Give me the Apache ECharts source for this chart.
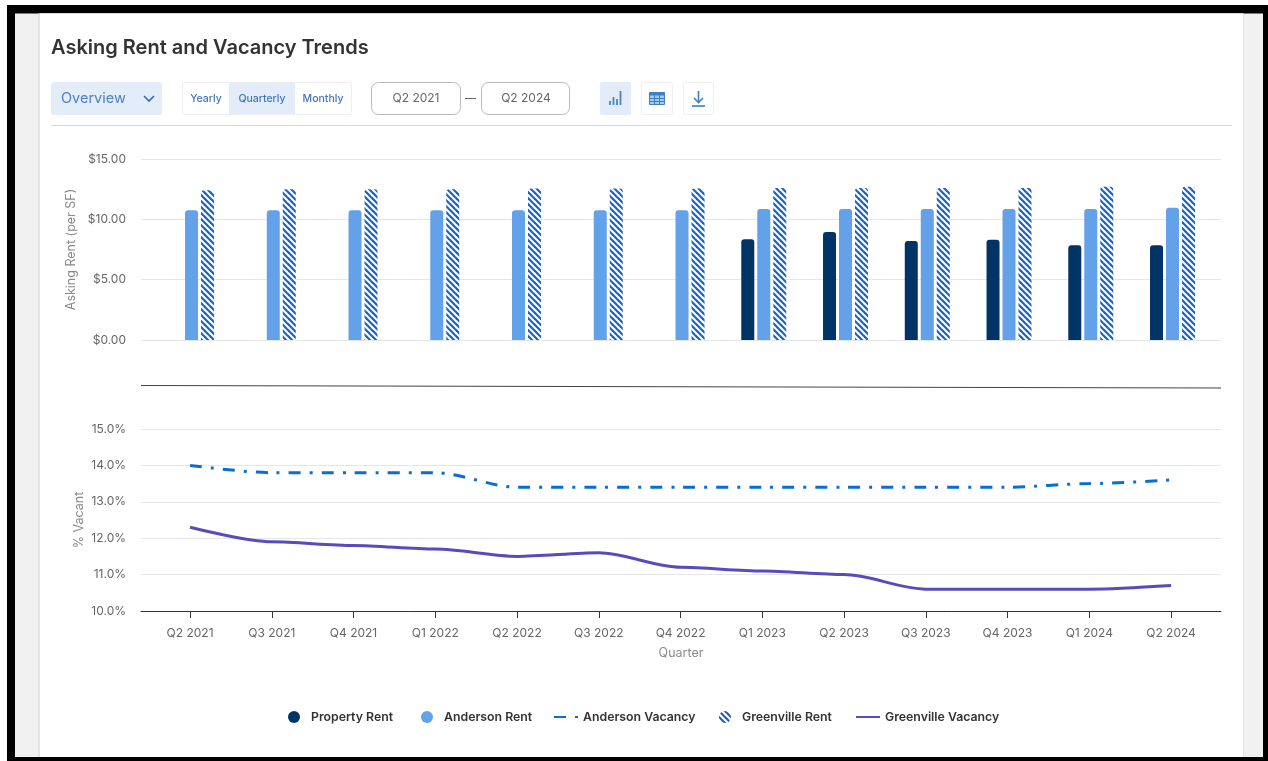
<!DOCTYPE html>
<html>
<head>
<meta charset="utf-8">
<style>html,body{margin:0;padding:0;background:#fff}#chart{width:1268px;height:761px}</style>
<script src="https://cdn.jsdelivr.net/npm/echarts@6/dist/echarts.min.js"></script>
</head>
<body>
<div id="chart"></div>
<script>
const quarters = ['Q2 2021','Q3 2021','Q4 2021','Q1 2022','Q2 2022','Q3 2022','Q4 2022','Q1 2023','Q2 2023','Q3 2023','Q4 2023','Q1 2024','Q2 2024'];
const propertyRent = [null,null,null,null,null,null,null,8.35,8.95,8.2,8.3,7.85,7.85];
const andersonRent = [10.75,10.75,10.75,10.75,10.75,10.75,10.75,10.85,10.85,10.85,10.85,10.85,10.95];
const greenvilleRent = [12.4,12.5,12.5,12.5,12.55,12.55,12.55,12.6,12.6,12.6,12.6,12.7,12.7];
const andersonVacancy = [14.0,13.8,13.8,13.8,13.4,13.4,13.4,13.4,13.4,13.4,13.4,13.5,13.6];
const greenvilleVacancy = [12.3,11.9,11.8,11.7,11.5,11.6,11.2,11.1,11.0,10.6,10.6,10.6,10.7];

const FONT = 'Inter, "Open Sans", sans-serif';
const BLUE_TEXT = '#3f76bd';

// Diagonal hatch tile used for the Greenville Rent bars and legend marker
function hatchTile(ink) {
  const size = 6;
  const c = document.createElement('canvas');
  c.width = c.height = size;
  const g = c.getContext('2d');
  g.fillStyle = '#ffffff';
  g.fillRect(0, 0, size, size);
  g.strokeStyle = ink;
  g.lineWidth = 2.2;
  [-size, 0, size].forEach(d => {
    g.beginPath();
    g.moveTo(d - 1, -1);
    g.lineTo(d + size + 1, size + 1);
    g.stroke();
  });
  return c;
}
const hatch = { image: hatchTile('#1c60c4'), repeat: 'repeat' };

const pairs = arr => arr.map((v, i) => [i, v]);
const ticks = quarters.map((_, i) => i);

function rect(x, y, w, h, fill, extra) {
  return Object.assign({ type: 'rect', silent: true, shape: { x, y, width: w, height: h, r: (extra && extra.r) || 0 },
    style: { fill, stroke: (extra && extra.stroke) || null, lineWidth: 1 }, z: (extra && extra.z) || 1 });
}
function label(x, y, text, size, color, weight, align) {
  return { type: 'text', silent: true, x, y, z: 5,
    style: { text, fill: color, font: `${weight || 400} ${size}px ${FONT}`, textAlign: align || 'center', textVerticalAlign: 'middle' } };
}
function stroke(x1, y1, x2, y2, color, w) {
  return { type: 'line', silent: true, z: 6, shape: { x1, y1, x2, y2 }, style: { stroke: color, lineWidth: w || 1 } };
}

const chrome = [
  // page frame and card, painted back to front beneath the plots
  rect(0, 0, 1268, 761, '#ffffff', { z: -5 }),
  rect(7, 5, 1261, 756, '#000000', { z: -4 }),
  rect(15, 13.5, 1248, 743.5, '#f1f1f1', { z: -3 }),
  rect(38, 13.5, 1206, 743.5, '#e4e4e4', { z: -2 }),
  rect(40, 13.5, 1203, 743.5, '#ffffff', { z: -1 }),
  label(51, 47.5, 'Asking Rent and Vacancy Trends', 20, '#333333', 600, 'left'),
  // view selector
  rect(51, 82, 111, 33, '#e2edf9', { r: 3 }),
  label(61, 98.5, 'Overview', 14.5, '#4f82c0', 400, 'left'),
  { type: 'polyline', silent: true, z: 6, shape: { points: [[144, 96], [149, 101], [154, 96]] }, style: { stroke: '#2f6cb5', fill: null, lineWidth: 1.6 } },
  // period toggle
  rect(182.5, 82.5, 169, 32, '#ffffff', { stroke: '#eeeeee', r: 2 }),
  rect(229, 83, 66, 31, '#e2edf9', { z: 2 }),
  label(206, 99, 'Yearly', 10.5, BLUE_TEXT, 500),
  label(262, 99, 'Quarterly', 10.5, BLUE_TEXT, 500),
  label(323, 99, 'Monthly', 10.5, BLUE_TEXT, 500),
  // date range
  rect(371.5, 82.5, 89, 32, '#ffffff', { stroke: '#b9b9b9', r: 7 }),
  rect(481.5, 82.5, 88, 32, '#ffffff', { stroke: '#b9b9b9', r: 7 }),
  label(416, 98, 'Q2 2021', 12, '#666666'),
  label(526, 98, 'Q2 2024', 12, '#666666'),
  stroke(465, 98.5, 476, 98.5, '#666666', 1),
  // chart, table and download buttons
  rect(600, 82, 31, 33, '#e2edf9', { r: 2 }),
  rect(641.5, 82.5, 31, 32, '#ffffff', { stroke: '#eeeeee', r: 2 }),
  rect(683.5, 82.5, 30, 32, '#ffffff', { stroke: '#eeeeee', r: 2 }),
  stroke(610, 105, 610, 101, '#4a86c5', 1.8),
  stroke(613.5, 105, 613.5, 97, '#4a86c5', 1.8),
  stroke(617, 105, 617, 99, '#4a86c5', 1.8),
  stroke(620.5, 105, 620.5, 91, '#4a86c5', 1.8),
  rect(649.5, 92.5, 15, 12, '#a9c8ee', { stroke: '#3f7fc4', z: 5 }),
  rect(649.5, 92.5, 15, 3, '#3f7fc4', { z: 5 }),
  stroke(650, 98.5, 664, 98.5, '#3f7fc4', 1),
  stroke(650, 101.5, 664, 101.5, '#3f7fc4', 1),
  stroke(654.5, 93, 654.5, 104, '#3f7fc4', 1),
  stroke(659.5, 93, 659.5, 104, '#3f7fc4', 1),
  stroke(698.5, 91, 698.5, 102, '#3f7fc4', 1.6),
  { type: 'polyline', silent: true, z: 6, shape: { points: [[694, 98], [698.5, 102.5], [703, 98]] }, style: { stroke: '#3f7fc4', fill: null, lineWidth: 1.6 } },
  stroke(692, 106, 705, 106, '#3f7fc4', 1.6),
  // header rule and the divider between the two plots
  stroke(51, 125.5, 1232, 125.5, '#d9d9d9', 1),
  stroke(141, 385.5, 1221, 388, '#444444', 1)
];

const tickText = { color: '#666666', fontFamily: FONT, fontSize: 12 };
const axisTitle = { color: '#8a8a8a', fontFamily: FONT, fontSize: 12.5 };
const gridLine = { show: true, lineStyle: { color: '#e6e6e6', width: 1 } };
const noMarker = { color: 'rgba(0,0,0,0)', borderColor: 'rgba(0,0,0,0)', borderWidth: 0 };

// Each legend entry is its own component so the markers sit at fixed spots along the row
function legendEntry(left, item) {
  return {
    left, top: 711, padding: 0, itemWidth: 24, itemHeight: 12,
    textStyle: { color: '#333333', fontFamily: FONT, fontWeight: 600, fontSize: 12.3 },
    data: [item]
  };
}

const option = {
  animation: false,
  backgroundColor: 'transparent',
  graphic: { elements: chrome },
  legend: [
    legendEntry(288, { name: 'Property Rent', icon: 'circle' }),
    legendEntry(421, { name: 'Anderson Rent', icon: 'circle' }),
    legendEntry(553, { name: 'Anderson Vacancy', itemStyle: noMarker }),
    legendEntry(719, { name: 'Greenville Rent', icon: 'circle' }),
    legendEntry(855, { name: 'Greenville Vacancy', itemStyle: noMarker })
  ],
  grid: [
    { left: 141, right: 47, top: 159, height: 181 },
    { left: 141, right: 47, top: 429, height: 182 }
  ],
  xAxis: [
    { type: 'value', gridIndex: 0, min: -0.618, max: 12.593, show: false, splitLine: { show: false } },
    {
      type: 'value', gridIndex: 1, min: -0.6, max: 12.611, splitLine: { show: false },
      name: 'Quarter', nameLocation: 'middle', nameGap: 36, nameTextStyle: axisTitle,
      axisLine: { show: true, onZero: false, lineStyle: { color: '#333333' } },
      axisTick: { show: true, length: 7, customValues: ticks, lineStyle: { color: '#333333' } },
      axisLabel: { customValues: ticks, margin: 16, formatter: v => quarters[v], ...tickText }
    }
  ],
  yAxis: [
    {
      type: 'value', gridIndex: 0, min: 0, max: 15, interval: 5,
      name: 'Asking Rent (per SF)', nameLocation: 'middle', nameGap: 63, nameMoveOverlap: false, nameTextStyle: axisTitle,
      axisLine: { show: false }, axisTick: { show: false },
      axisLabel: { margin: 15, formatter: v => '$' + v.toFixed(2), ...tickText },
      splitLine: gridLine
    },
    {
      type: 'value', gridIndex: 1, min: 10, max: 15, interval: 1,
      name: '% Vacant', nameLocation: 'middle', nameGap: 55, nameMoveOverlap: false, nameTextStyle: axisTitle,
      axisLine: { show: false }, axisTick: { show: false },
      axisLabel: { margin: 15, formatter: v => v.toFixed(1) + '%', ...tickText },
      splitLine: gridLine
    }
  ],
  series: [
    { name: 'Property Rent', type: 'bar', xAxisIndex: 0, yAxisIndex: 0, barWidth: 13, barGap: '23%', data: pairs(propertyRent),
      itemStyle: { color: '#003366', borderRadius: [3, 3, 0, 0] } },
    { name: 'Anderson Rent', type: 'bar', xAxisIndex: 0, yAxisIndex: 0, barWidth: 13, barGap: '23%', data: pairs(andersonRent),
      itemStyle: { color: '#63a1e9', borderRadius: [3, 3, 0, 0] } },
    { name: 'Greenville Rent', type: 'bar', xAxisIndex: 0, yAxisIndex: 0, barWidth: 13, barGap: '23%', data: pairs(greenvilleRent),
      itemStyle: { color: hatch, borderRadius: [3, 3, 0, 0] } },
    { name: 'Anderson Vacancy', type: 'line', xAxisIndex: 1, yAxisIndex: 1, data: pairs(andersonVacancy), symbol: 'none',
      smooth: 0.3, smoothMonotone: 'x', color: '#0a6ed1', lineStyle: { color: '#0a6ed1', width: 3, type: [12, 9, 3, 9] } },
    { name: 'Greenville Vacancy', type: 'line', xAxisIndex: 1, yAxisIndex: 1, data: pairs(greenvilleVacancy), symbol: 'none',
      smooth: 0.3, smoothMonotone: 'x', color: '#5a4bbd', lineStyle: { color: '#5a4bbd', width: 3 } }
  ]
};

echarts.init(document.getElementById('chart'), null, { renderer: 'canvas' }).setOption(option);
</script>
</body>
</html>
